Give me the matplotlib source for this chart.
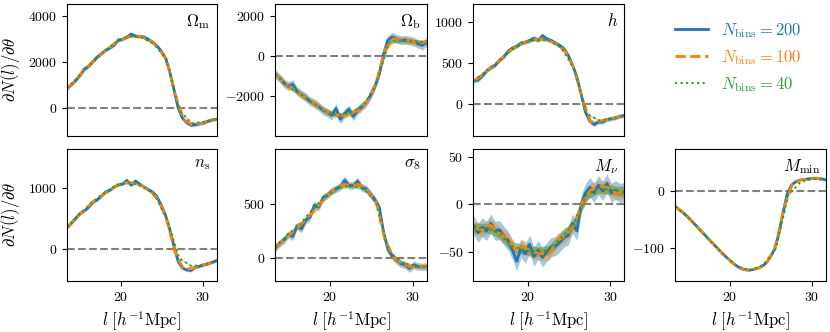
import numpy as np
import matplotlib
matplotlib.use("Agg")
import matplotlib.pyplot as plt

plt.rcParams['font.family'] = 'serif'
plt.rcParams['font.serif'] = ['cmr10', 'DejaVu Serif']
plt.rcParams['mathtext.fontset'] = 'cm'
plt.rcParams['axes.formatter.use_mathtext'] = True
plt.rcParams['font.size'] = 10

# bin centres (h^-1 Mpc) for the three binnings
l_200 = np.linspace(13.4, 31.7, 36)
l_100 = np.linspace(13.4, 31.7, 19)
l_40 = np.linspace(13.4, 31.7, 13)

labels = [r'$\Omega_{\rm m}$', r'$\Omega_{\rm b}$', r'$h$', r'$n_{\rm s}$',
          r'$\sigma_8$', r'$M_\nu$', r'$M_{\rm min}$']
legend_labels = [r'$N_{\rm bins}=200$', r'$N_{\rm bins}=100$', r'$N_{\rm bins}=40$']

# ---- Omega_m
om_200 = [840, 1000, 1180, 1400, 1680, 1800, 2000, 2200, 2350, 2500, 2600, 2720, 2950, 2980,
          3080, 3200, 3120, 3100, 3080, 2980, 2860, 2700, 2480, 2180, 1600, 800, 0, -450,
          -650, -760, -740, -700, -660, -580, -520, -500]
om_100 = [840, 1170, 1650, 1950, 2300, 2580, 2880, 3040, 3130, 3080, 2930, 2600, 2050, 600,
          -500, -730, -690, -580, -500]
om_40 = [840, 1400, 1950, 2460, 2870, 3100, 3060, 2750, 2100, -100, -680, -620, -500]
# ---- Omega_b
ob_200 = [-900, -1100, -1350, -1500, -1400, -1750, -1900, -2050, -2250, -2350, -2500, -2700,
          -2800, -2950, -2600, -3150, -2850, -2650, -3000, -2700, -2500, -2300, -1950, -1500,
          -900, 100, 800, 950, 850, 780, 800, 760, 720, 600, 530, 700]
ob_100 = [-900, -1350, -1600, -1900, -2200, -2450, -2750, -2900, -2950, -2850, -2650, -2200,
          -1300, 300, 850, 800, 760, 620, 700]
ob_40 = [-900, -1500, -1900, -2350, -2750, -2950, -2800, -2450, -1350, 700, 780, 720, 680]
# ---- h
h_200 = [280, 290, 340, 400, 440, 470, 530, 570, 640, 680, 700, 740, 750, 770, 800, 770, 830,
         790, 770, 740, 710, 670, 590, 470, 330, 120, -100, -210, -250, -220, -220, -190,
         -180, -170, -150, -140]
h_100 = [280, 350, 440, 520, 620, 690, 745, 780, 790, 770, 720, 630, 430, 60, -220, -210,
         -190, -165, -140]
h_40 = [280, 400, 520, 660, 745, 780, 770, 680, 430, -120, -200, -180, -145]
# ---- n_s
ns_200 = [350, 420, 500, 580, 620, 680, 760, 800, 860, 930, 960, 1010, 1050, 1060, 1120, 1040,
          1110, 1060, 1010, 970, 930, 860, 720, 560, 330, 50, -200, -310, -340, -350, -300,
          -280, -260, -240, -215, -190]
ns_100 = [350, 500, 620, 760, 860, 950, 1040, 1080, 1080, 1030, 950, 800, 480, -50, -320,
          -320, -270, -235, -190]
ns_40 = [350, 570, 760, 920, 1040, 1080, 1030, 890, 500, -150, -280, -255, -195]
# ---- sigma_8
s8_200 = [100, 140, 170, 220, 200, 300, 270, 350, 380, 490, 470, 560, 580, 620, 640, 660, 720,
          670, 670, 710, 650, 640, 590, 540, 470, 240, 80, 20, -20, -50, -60, -95, -60, -75,
          -80, -75]
s8_100 = [100, 170, 240, 310, 390, 470, 570, 630, 680, 670, 680, 620, 510, 180, 10, -50, -75,
          -75, -75]
s8_40 = [100, 220, 320, 460, 570, 650, 670, 640, 510, 60, -40, -70, -75]
# ---- M_nu
mn_200 = [-22, -30, -24, -28, -20, -28, -27, -33, -38, -48, -60, -46, -52, -42, -55, -48, -56,
          -50, -45, -44, -40, -35, -33, -20, -28, 0, 12, 18, 12, 20, 14, 22, 12, 15, 12, 13]
mn_100 = [-25, -27, -22, -30, -36, -48, -45, -50, -52, -52, -38, -33, -22, 2, 15, 18, 18, 12, 13]
mn_40 = [-25, -25, -30, -44, -48, -50, -48, -35, -20, 10, 17, 15, 13]
# ---- M_min
mm_200 = [-28, -34, -40, -47, -55, -63, -71, -79, -87, -95, -103, -111, -118, -125, -131, -136,
          -139, -140, -139, -137, -134, -128, -118, -104, -78, -40, -6, 10, 16, 19, 20, 21, 22,
          22, 21, 19]
mm_100 = [-28, -39, -54, -70, -86, -101, -116, -129, -138, -140, -136, -125, -98, -30, 12, 19,
          21, 22, 19]
mm_40 = [-28, -47, -70, -94, -116, -134, -140, -131, -102, -8, 16, 21, 19]

# 1-sigma band half-widths (blue, orange, green) per parameter
err_200 = [70, 220, 25, 25, 35, 10, 1.0]
err_100 = [45, 150, 16, 16, 22, 7, 0.7]
err_40 = [30, 100, 10, 10, 15, 5, 0.5]

series_200 = [om_200, ob_200, h_200, ns_200, s8_200, mn_200, mm_200]
series_100 = [om_100, ob_100, h_100, ns_100, s8_100, mn_100, mm_100]
series_40 = [om_40, ob_40, h_40, ns_40, s8_40, mn_40, mm_40]

ylims = [(-1230, 4510), (-3970, 2580), (-390, 1213), (-522, 1631), (-209, 1006),
         (-80.7, 58.2), (-159, 73.5)]
yticks = [[0, 2000, 4000], [-2000, 0, 2000], [0, 500, 1000], [0, 1000], [0, 500],
          [-50, 0, 50], [-100, 0]]

W, H = 830, 332
fig = plt.figure(figsize=(W / 100, H / 100), dpi=100)
lefts = [66.7, 275, 473.3, 675]
widths = [150, 152, 151, 151]
tops = [4, 149]
hts = [132, 132]
slots = [(0, 0), (0, 1), (0, 2), (1, 0), (1, 1), (1, 2), (1, 3)]
c0, c1, c2 = '#1f77b4', '#ff7f0e', '#2ca02c'
handles = None
for i, (r, c) in enumerate(slots):
    ax = fig.add_axes([lefts[c] / W, 1 - (tops[r] + hts[r]) / H, widths[c] / W, hts[r] / H])
    y2 = np.array(series_200[i], float)
    y1 = np.array(series_100[i], float)
    y4 = np.array(series_40[i], float)
    ax.fill_between(l_200, y2 - err_200[i], y2 + err_200[i], color=c0, alpha=0.4, lw=0)
    ax.fill_between(l_100, y1 - err_100[i], y1 + err_100[i], color=c1, alpha=0.4, lw=0)
    ax.fill_between(l_40, y4 - err_40[i], y4 + err_40[i], color=c2, alpha=0.4, lw=0)
    h2, = ax.plot(l_200, y2, color=c0, lw=2, ls='-', label=legend_labels[0])
    h1, = ax.plot(l_100, y1, color=c1, lw=2, ls='--', label=legend_labels[1])
    h4, = ax.plot(l_40, y4, color=c2, lw=1.5, ls=':', label=legend_labels[2])
    ax.axhline(0, color='grey', ls='--', lw=1.5, zorder=0.5)
    ax.set_xlim(13.35, 31.72)
    ax.set_ylim(*ylims[i])
    ax.set_yticks(yticks[i])
    ax.set_xticks([20, 30])
    ax.text(0.96, 0.94, labels[i], transform=ax.transAxes, ha='right', va='top', fontsize=12)
    if r == 0:
        ax.tick_params(axis='x', length=0, labelbottom=False)
    else:
        ax.set_xlabel(r'$l\ [h^{-1}\mathrm{Mpc}]$', fontsize=12)
    if c == 0:
        ax.set_ylabel(r'$\partial N(l)/\partial \theta$', fontsize=12)
    if i == 0:
        handles = [h2, h1, h4]

fig.legend(handles=handles, loc='upper left', bbox_to_anchor=(668 / W, 1 - 14 / H),
           frameon=False, fontsize=12, labelcolor='linecolor', borderaxespad=0)
fig.savefig('out.png', dpi=100)
